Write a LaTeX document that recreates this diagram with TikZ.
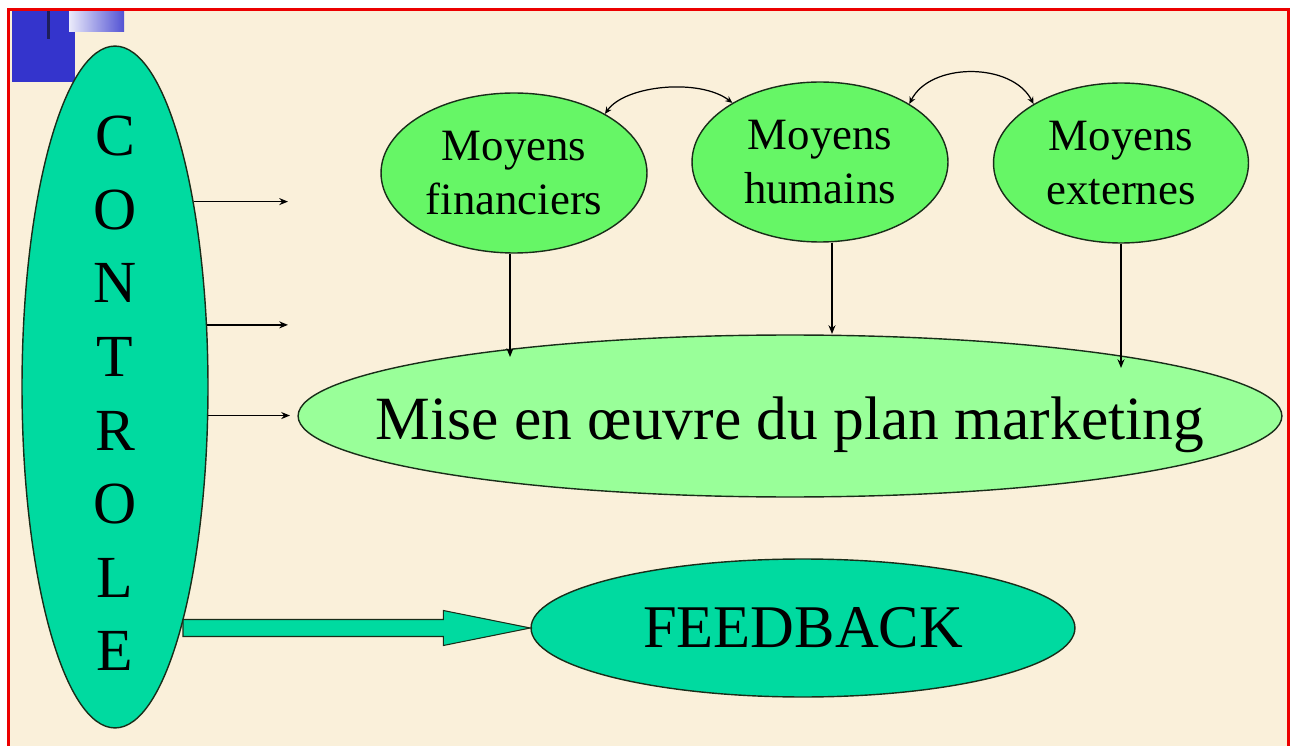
\documentclass[tikz,border=0pt]{standalone}
\usepackage{fontspec}
\setmainfont{Liberation Serif}
\usetikzlibrary{shapes.geometric,arrows.meta,calc}

\definecolor{parchment}{RGB}{250,240,218}
\definecolor{framered}{RGB}{236,0,0}
\definecolor{ctlgreen}{RGB}{0,218,160}
\definecolor{meangreen}{RGB}{102,246,102}
\definecolor{plangreen}{RGB}{153,255,153}
\definecolor{logoblue}{RGB}{52,52,204}
\definecolor{logonavy}{RGB}{30,30,90}
\definecolor{edgecol}{RGB}{25,45,25}

\begin{document}
\begin{tikzpicture}[x=0.02cm,y=-0.02cm,
  outlined/.style={draw=edgecol,line width=0.8pt},
  ctlshape/.style={ellipse,outlined,fill=ctlgreen,inner sep=0pt},
  moyen/.style={ellipse,outlined,fill=meangreen,inner sep=0pt,
    minimum height=3.2cm,align=center,font=\fontsize{25.5}{31}\selectfont},
  planshape/.style={ellipse,outlined,fill=plangreen,inner sep=0pt,
    minimum width=19.68cm,minimum height=3.24cm,
    text height=27.2pt,text depth=0pt,font=\fontsize{35}{42}\selectfont},
  feedshape/.style={ctlshape,minimum width=10.88cm,minimum height=2.76cm,
    text height=22.7pt,text depth=0pt,font=\fontsize{34.5}{41}\selectfont},
  letters/.style={align=center,inner sep=0pt,font=\fontsize{34}{41.9}\selectfont},
  thinarrow/.style={draw=black,line width=0.8pt,-{Stealth[length=5pt,width=4pt]}},
  curvearrow/.style={draw=black,line width=0.7pt,{Stealth[length=4pt,width=3.5pt]}-{Stealth[length=4pt,width=3.5pt]}},
  blockarrow/.style={draw=edgecol,line width=0.6pt,fill=ctlgreen,line join=miter}
]
\useasboundingbox (0,0) rectangle (1291,746);

% page and parchment background
\fill[white] (0,0) rectangle (1291,746);
\fill[parchment] (8.5,9.5) rectangle (1288.5,746);

% corner logo
\fill[logoblue] (12,10) rectangle (75,82);
\shade[left color=white!90!logoblue,right color=logoblue!85] (69,10) rectangle (124,32);
\fill[logonavy] (46.5,10) rectangle (49.5,39);

% main shapes
\node[ctlshape,minimum width=3.72cm,minimum height=13.64cm] (ctl) at (115,387) {};
\node[letters] (ctltext) at (115,393.5) {C\\O\\N\\T\\R\\O\\L\\E};

\node[moyen,minimum width=5.32cm] (fin) at (514,173) {Moyens\\financiers};
\node[moyen,minimum width=5.12cm] (hum) at (820,162) {Moyens\\humains};
\node[moyen,minimum width=5.10cm] (ext) at (1121,163) {Moyens\\externes};

\node[planshape] (plan) at (790,416) {\makebox[0pt]{Mise en œuvre du plan marketing}};
\node[feedshape] (fb) at (803,628) {\makebox[0pt]{FEEDBACK}};

% arrows leaving the CONTROLE ellipse
\coordinate (e1) at (288,197);
\coordinate (e2) at (288,324);
\coordinate (e3) at (290,417);
\draw[thinarrow] (ctl.67.9) -- (ctl.67.9 -| e1);
\draw[thinarrow] (ctl.34.6) -- (ctl.34.6 -| e2);
\draw[thinarrow] (ctl.-17.95) -- (ctl.-17.95 -| e3);

% resources feeding the plan
\coordinate (t1) at (510,357);
\coordinate (t2) at (832,334);
\coordinate (t3) at (1121,368);
\draw[thinarrow] (fin.south -| t1) -- (t1);
\draw[thinarrow] (hum.south -| t2) -- (t2);
\draw[thinarrow] (ext.south -| t3) -- (t3);

% links between resources
\draw[curvearrow] (fin.33) .. controls (625,85) and (700,78) .. (hum.146);
\draw[curvearrow] (hum.33) .. controls (930,62) and (1012,62) .. (ext.146);

% block arrow to FEEDBACK
\coordinate (bs) at (183,628);
\draw[blockarrow] ($(bs)+(0,-8.5)$) -- ($(fb.west)+(-87,-8.5)$)
  -- ($(fb.west)+(-87,-17.5)$) -- (fb.west) -- ($(fb.west)+(-87,17.5)$)
  -- ($(fb.west)+(-87,8.5)$) -- ($(bs)+(0,8.5)$) -- cycle;

% red frame
\draw[framered,line width=0.06cm] (8.5,760) -- (8.5,9.5) -- (1288.5,9.5) -- (1288.5,760);
\end{tikzpicture}
\end{document}
